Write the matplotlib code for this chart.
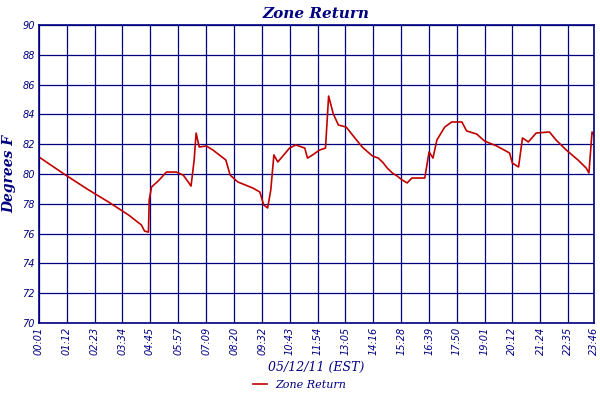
import matplotlib
matplotlib.use("Agg")
import matplotlib.pyplot as plt

minutes = [1,65,128,179,230,263,271,281,283,289,306,327,352,370,383,390,398,403,411,429,446,479,490,510,548,566,576,586,594,602,612,625,642,658,681,688,701,719,734,742,754,767,787,803,828,854,869,882,892,905,917,930,943,955,988,999,1009,1019,1039,1057,1083,1095,1121,1141,1172,1205,1212,1228,1238,1253,1273,1307,1324,1350,1380,1401,1408,1416,1421]
temps = [81.14,80.0,78.93,78.12,77.25,76.58,76.17,76.1,78.26,79.13,79.53,80.13,80.13,79.93,79.46,79.19,80.94,82.75,81.81,81.88,81.61,80.94,79.93,79.46,79.06,78.79,77.92,77.72,78.93,81.28,80.81,81.21,81.74,81.95,81.74,81.07,81.28,81.61,81.74,85.23,84.03,83.29,83.15,82.62,81.81,81.21,81.07,80.74,80.4,80.07,79.87,79.6,79.4,79.73,79.73,81.48,81.07,82.28,83.15,83.49,83.49,82.89,82.68,82.21,81.88,81.41,80.74,80.47,82.42,82.15,82.75,82.82,82.28,81.61,80.94,80.4,80.07,82.82,82.62]
tick_pos = [1,72,143,214,285,357,429,500,572,643,714,785,856,928,999,1070,1141,1212,1284,1355,1421]
tick_labels = ["00:01","01:12","02:23","03:34","04:45","05:57","07:09","08:20","09:32","10:43","11:54","13:05","14:16","15:28","16:39","17:50","19:01","20:12","21:24","22:35","23:46"]

navy = "#000080"
fig = plt.figure(figsize=(6, 4), dpi=100)
ax = fig.add_axes([0.065, 0.1925, 0.925, 0.745])
ax.plot(minutes, temps, color="#c00000", lw=1.2, label="Zone Return")
ax.set_xlim(1, 1421)
ax.set_ylim(70, 90)
ax.set_yticks(range(70, 91, 2))
ax.set_xticks(tick_pos)
ax.set_xticklabels(tick_labels, rotation=90, fontsize=7, style="italic", color=navy)
for l in ax.get_yticklabels():
    l.set_fontsize(7); l.set_style("italic"); l.set_color(navy)
ax.tick_params(length=0, pad=3)
ax.grid(True, color=navy, lw=0.9)
for s in ax.spines.values():
    s.set_color(navy); s.set_linewidth(1.2)
ax.set_title("Zone Return", fontsize=11, fontweight="bold", style="italic", color=navy, family="DejaVu Serif", pad=5)
ax.set_ylabel("Degrees F", fontsize=10, fontweight="bold", style="italic", color=navy, family="DejaVu Serif", labelpad=4)
ax.set_xlabel("05/12/11 (EST)", fontsize=9, style="italic", color=navy, family="DejaVu Serif", labelpad=4)
leg = fig.legend(loc="lower center", bbox_to_anchor=(0.5, 0.0), frameon=False, handlelength=1.2, prop={"family": "DejaVu Serif", "style": "italic", "size": 8})
for t in leg.get_texts():
    t.set_color(navy)
fig.savefig("out.png", dpi=100)
